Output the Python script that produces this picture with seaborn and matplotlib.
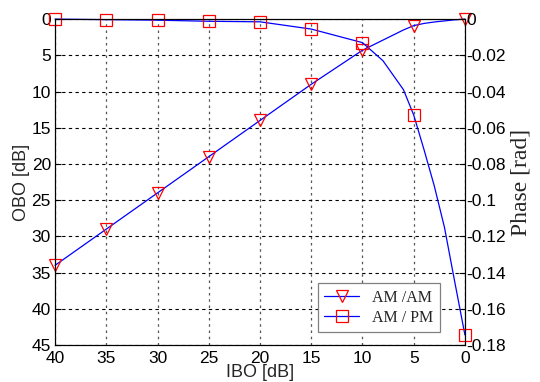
import matplotlib
matplotlib.use("Agg")
import matplotlib.pyplot as plt
import seaborn as sns

# IBO sweep (dB) - markers every 5 dB, extra points near saturation
ibo = [40, 35, 30, 25, 20, 15, 10, 8, 6, 5, 4, 3, 2, 1, 0]
obo = [34, 29, 24, 19, 14, 9, 4.3, 2.9, 1.5, 0.9, 0.6, 0.4, 0.25, 0.1, 0]
phase = [0, -0.0003, -0.0006, -0.0012, -0.0015, -0.0055, -0.013, -0.023,
         -0.039, -0.053, -0.072, -0.092, -0.115, -0.145, -0.1745]
mark_idx = [0, 1, 2, 3, 4, 5, 6, 9, 14]

sns.set_style("white")
plt.rcParams['font.family'] = ['Liberation Sans', 'DejaVu Sans']
plt.rcParams['axes.unicode_minus'] = False

fig = plt.figure(figsize=(5.4, 3.82), dpi=100)
ax = fig.add_axes([0.102, 0.097, 0.759, 0.853])
ax2 = ax.twinx()

sns.lineplot(x=ibo, y=obo, ax=ax, sort=False, color='blue', lw=0.9,
             marker='v', markevery=mark_idx, ms=8, mec='red', mfc='none',
             mew=0.9, label='AM /AM', legend=False, clip_on=False)
sns.lineplot(x=ibo, y=phase, ax=ax2, sort=False, color='blue', lw=0.9,
             marker='s', markevery=mark_idx, ms=8, mec='red', mfc='none',
             mew=0.9, label='AM / PM', legend=False, clip_on=False)

ax.set_xlim(40, 0)
ax.set_ylim(45, 0)
ax2.set_ylim(-0.18, 0)
ax.set_xticks(range(0, 41, 5))
ax.set_yticks(range(0, 46, 5))
ax2.set_yticks([-0.18, -0.16, -0.14, -0.12, -0.1, -0.08, -0.06, -0.04, -0.02, 0])
ax2.set_yticklabels(['-0.18', '-0.16', '-0.14', '-0.12', '-0.1', '-0.08',
                     '-0.06', '-0.04', '-0.02', '0'])

ax.grid(True, axis='y', color='black', linestyle=(0, (3, 3)), lw=0.8)
ax.grid(True, axis='x', color='#555555', linestyle=(0, (2, 3)), lw=0.9)
for a in (ax, ax2):
    a.tick_params(direction='in', length=4, labelsize=12.5, width=0.8,
                  colors='black')
    for s in a.spines.values():
        s.set_color('black')
        s.set_linewidth(0.8)
ax.tick_params(axis='x', pad=4)
ax.tick_params(axis='y', pad=3)
ax2.tick_params(axis='y', pad=1)

ax.set_xlabel('IBO [dB]', fontsize=13, labelpad=-1,
              family=['Liberation Sans'])
ax.set_ylabel('OBO [dB]', fontsize=13, labelpad=1,
              family=['Liberation Sans'])
ax2.set_ylabel('Phase [rad]', fontsize=17, family=['Liberation Serif'],
               labelpad=3)

h1, l1 = ax.get_legend_handles_labels()
h2, l2 = ax2.get_legend_handles_labels()
leg = ax2.legend(h1 + h2, l1 + l2, loc='lower left',
                 bbox_to_anchor=(0.641, 0.04), borderaxespad=0,
                 fancybox=False,
                 prop={'family': 'Liberation Serif', 'size': 11.5},
                 handlelength=2.2, handletextpad=0.8, borderpad=0.4,
                 labelspacing=0.25, framealpha=1)
leg.get_frame().set_edgecolor('gray')
leg.get_frame().set_linewidth(0.9)

fig.savefig('out.png', dpi=100)
